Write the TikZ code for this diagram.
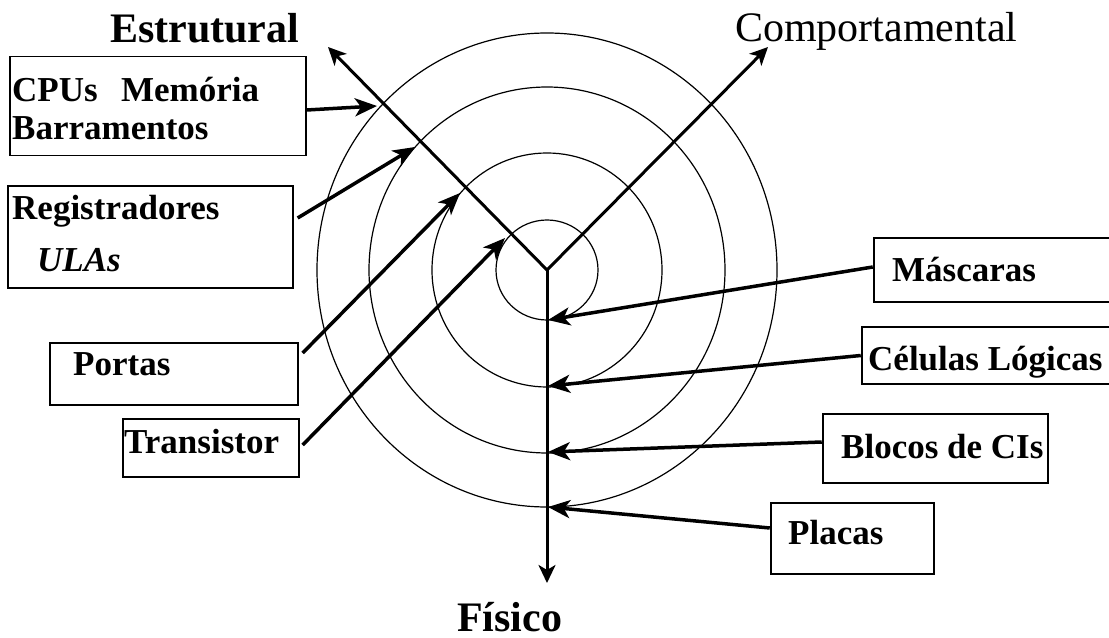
\documentclass[tikz,border=0pt]{standalone}
\usepackage{fontspec}
\setmainfont{Liberation Serif}
\usetikzlibrary{arrows.meta}
\newcommand\lblfont{\fontsize{35bp}{40bp}\selectfont\bfseries}
\newcommand\ttlfont{\fontsize{42bp}{46bp}\selectfont}
\tikzset{
  ring/.style={line width=1.2bp},
  axis/.style={line width=3bp, -{Stealth[length=18bp,width=17bp,inset=5bp]}},
  ptr/.style={line width=3.5bp, -{Stealth[length=22bp,width=18bp,inset=6bp]}},
  lbox/.style={draw, line width=1.3bp, inner sep=0pt, fill=white},
  rbox/.style={draw, line width=2.5bp, inner sep=0pt, fill=white},
  lbl/.style={anchor=base west, inner sep=0pt, font=\lblfont},
  ttl/.style={anchor=base west, inner sep=0pt, font=\ttlfont},
}
\begin{document}
\begin{tikzpicture}[x=1bp, y=-1bp]
\clip (0,0) rectangle (1109,638);
\fill[white] (0,0) rectangle (1109,638);
% center and rings
\coordinate (O) at (547,270);
\draw[ring] (O) ellipse [x radius=51bp, y radius=50bp];
\draw[ring] (O) ellipse [x radius=115bp, y radius=117bp];
\draw[ring] (O) ellipse [x radius=178bp, y radius=183bp];
\draw[ring] (O) ellipse [x radius=230bp, y radius=237bp];
% axes
\coordinate (aE) at (328,47);
\coordinate (aC) at (768,47);
\coordinate (aF) at (547,583);
\draw[axis] (O) -- (aE);
\draw[axis] (O) -- (aC);
\draw[axis] (O) -- (aF);
% titles
\node[ttl, font=\ttlfont\bfseries] (tE) at (110,43) {Estrutural};
\node[ttl] (tC) at (735,42) {Comportamental};
\node[ttl, font=\ttlfont\bfseries] (tF) at (457,631) {Físico};
% boxes (left)
\node[lbox, minimum width=296bp, minimum height=99bp] (cpu) at (158,106) {};
\node[lbox, minimum width=285bp, minimum height=102bp] (reg) at (150.5,237) {};
\node[lbox, minimum width=248bp, minimum height=62bp] (por) at (174,374) {};
\node[lbox, minimum width=176bp, minimum height=58bp] (tra) at (211,448) {};
% boxes (right)
\node[rbox, minimum width=246bp, minimum height=64bp] (mas) at (997,270) {};
\node[rbox, minimum width=258bp, minimum height=57bp] (cel) at (991,355.5) {};
\node[rbox, minimum width=225bp, minimum height=69bp] (blo) at (935.5,448.5) {};
\node[rbox, minimum width=163bp, minimum height=71bp] (pla) at (852.5,538.5) {};
% labels
\node[lbl] (l1) at (12,102) {CPUs\ \ \,Memória};
\node[lbl] (l2) at (12,140) {Barramentos};
\node[lbl] (l3) at (12,220) {Registradores};
\node[lbl, font=\lblfont\itshape] (l4) at (37,272) {ULAs};
\node[lbl] (l5) at (73,375) {Portas};
\node[lbl] (l6) at (124,453) {Transistor};
\node[lbl] (l7) at (892,282) {Máscaras};
\node[lbl] (l8) at (868,370) {Células Lógicas};
\node[lbl] (l9) at (841,458) {Blocos de CIs};
\node[lbl] (l10) at (788,544) {Placas};
% pointer targets
\coordinate (tCPU) at (377,106);
\coordinate (tReg) at (415,147);
\coordinate (tPor) at (460,193);
\coordinate (tTra) at (505,238);
\coordinate (tMas) at (548,320);
\coordinate (tCel) at (548,386);
\coordinate (tBlo) at (548,452);
\coordinate (tPla) at (548,507);
% pointers
\draw[ptr] ([yshift=-4bp]cpu.east) -- (tCPU);
\draw[ptr] ([xshift=4bp,yshift=19bp]reg.east) -- (tReg);
\draw[ptr] ([xshift=4bp,yshift=21bp]por.east) -- (tPor);
\draw[ptr] ([xshift=3bp,yshift=3bp]tra.east) -- (tTra);
\draw[ptr] ([yshift=3bp]mas.west) -- (tMas);
\draw[ptr] (cel.west) -- (tCel);
\draw[ptr] ([yshift=6.5bp]blo.west) -- (tBlo);
\draw[ptr] ([yshift=10.5bp]pla.west) -- (tPla);
\end{tikzpicture}
\end{document}
